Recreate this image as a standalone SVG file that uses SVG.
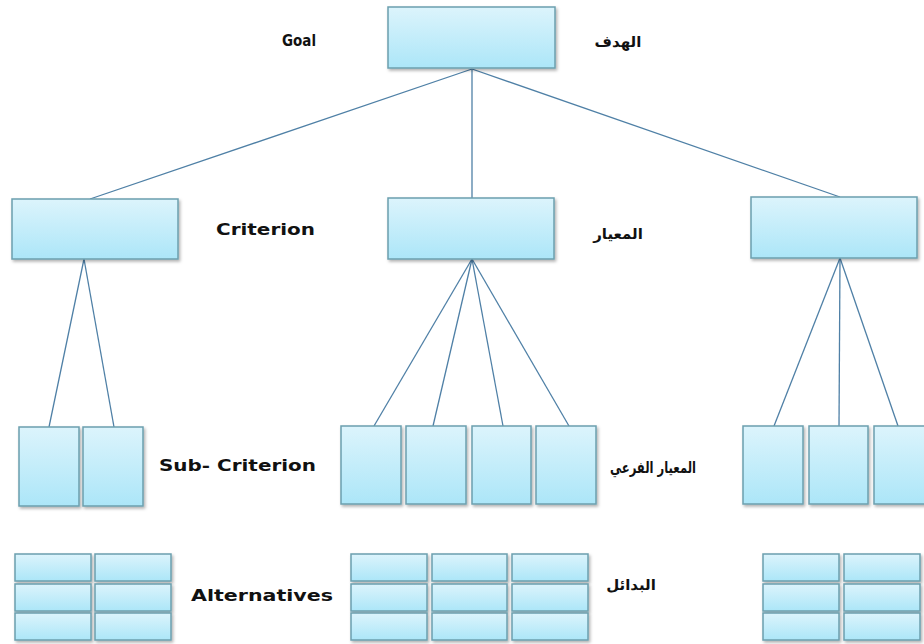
<svg xmlns="http://www.w3.org/2000/svg" width="924" height="644" viewBox="0 0 924 644">
<defs>
<linearGradient id="g" x1="0" y1="0" x2="0" y2="1">
<stop offset="0" stop-color="#dcf4fc"/>
<stop offset="1" stop-color="#ace6f8"/>
</linearGradient>
<filter id="sh" x="-10%" y="-10%" width="130%" height="130%">
<feDropShadow dx="1.5" dy="2" stdDeviation="1.5" flood-color="#000" flood-opacity="0.3"/>
</filter>
</defs>
<style>
.b{fill:url(#g);stroke:#6b9fae;stroke-width:1.5;filter:url(#sh)}
.c line{stroke:#4f80a6;stroke-width:1.3}
.en{font-family:"DejaVu Sans",sans-serif;font-weight:bold;font-size:15px;fill:#111}
.ar{font-family:"DejaVu Sans",sans-serif;font-weight:bold;font-size:15px;fill:#111;text-anchor:middle}
</style>
<rect width="924" height="644" fill="#fff"/>
<g class="c" id="connectors">
<line x1="472" y1="69" x2="90" y2="199"/>
<line x1="472" y1="69" x2="472" y2="198"/>
<line x1="472" y1="69" x2="840" y2="197"/>
<line x1="84" y1="259" x2="49" y2="427"/>
<line x1="84" y1="259" x2="114" y2="427"/>
<line x1="472" y1="259" x2="374" y2="426"/>
<line x1="472" y1="259" x2="433" y2="426"/>
<line x1="472" y1="259" x2="503" y2="426"/>
<line x1="472" y1="259" x2="569" y2="426"/>
<line x1="840" y1="258" x2="774" y2="426"/>
<line x1="840" y1="258" x2="839" y2="426"/>
<line x1="840" y1="258" x2="898" y2="426"/>
</g>
<g id="goal"><rect class="b" x="388" y="7" width="167" height="61"/></g>
<g id="crit1"><rect class="b" x="12" y="199" width="166" height="60"/></g>
<g id="crit2"><rect class="b" x="388" y="198" width="166" height="61"/></g>
<g id="crit3"><rect class="b" x="751" y="197" width="166" height="61"/></g>
<g id="sub1a"><rect class="b" x="19" y="427" width="60" height="79"/></g>
<g id="sub1b"><rect class="b" x="83" y="427" width="60" height="79"/></g>
<g id="sub2a"><rect class="b" x="341" y="426" width="60" height="78"/></g>
<g id="sub2b"><rect class="b" x="406" y="426" width="60" height="78"/></g>
<g id="sub2c"><rect class="b" x="472" y="426" width="59" height="78"/></g>
<g id="sub2d"><rect class="b" x="536" y="426" width="60" height="78"/></g>
<g id="sub3a"><rect class="b" x="743" y="426" width="60" height="78"/></g>
<g id="sub3b"><rect class="b" x="809" y="426" width="59" height="78"/></g>
<g id="sub3c"><rect class="b" x="874" y="426" width="60" height="78"/></g>
<g id="alt1">
<rect class="b" x="15" y="554" width="76" height="27"/><rect class="b" x="95" y="554" width="76" height="27"/>
<rect class="b" x="15" y="584" width="76" height="27"/><rect class="b" x="95" y="584" width="76" height="27"/>
<rect class="b" x="15" y="613" width="76" height="27"/><rect class="b" x="95" y="613" width="76" height="27"/>
</g>
<g id="alt2">
<rect class="b" x="351" y="554" width="76" height="27"/><rect class="b" x="432" y="554" width="75" height="27"/><rect class="b" x="512" y="554" width="76" height="27"/>
<rect class="b" x="351" y="584" width="76" height="27"/><rect class="b" x="432" y="584" width="75" height="27"/><rect class="b" x="512" y="584" width="76" height="27"/>
<rect class="b" x="351" y="613" width="76" height="27"/><rect class="b" x="432" y="613" width="75" height="27"/><rect class="b" x="512" y="613" width="76" height="27"/>
</g>
<g id="alt3">
<rect class="b" x="763" y="554" width="76" height="27"/><rect class="b" x="844" y="554" width="76" height="27"/>
<rect class="b" x="763" y="584" width="76" height="27"/><rect class="b" x="844" y="584" width="76" height="27"/>
<rect class="b" x="763" y="613" width="76" height="27"/><rect class="b" x="844" y="613" width="76" height="27"/>
</g>
<g id="labels">
<text class="en" x="282" y="46" textLength="34" lengthAdjust="spacingAndGlyphs">Goal</text>
<text class="en" x="216" y="235" textLength="99" lengthAdjust="spacingAndGlyphs">Criterion</text>
<text class="en" x="159" y="471" textLength="157" lengthAdjust="spacingAndGlyphs">Sub- Criterion</text>
<text class="en" x="191" y="601" textLength="142" lengthAdjust="spacingAndGlyphs" style="font-size:16px">Alternatives</text>
<text class="ar" x="618" y="47" direction="rtl">الهدف</text>
<text class="ar" x="618" y="239" direction="rtl">المعيار</text>
<text class="ar" x="653" y="473" direction="rtl" textLength="86" lengthAdjust="spacingAndGlyphs" style="font-size:16px">المعيار الفرعي</text>
<text class="ar" x="631" y="590" direction="rtl">البدائل</text>
</g>
</svg>
